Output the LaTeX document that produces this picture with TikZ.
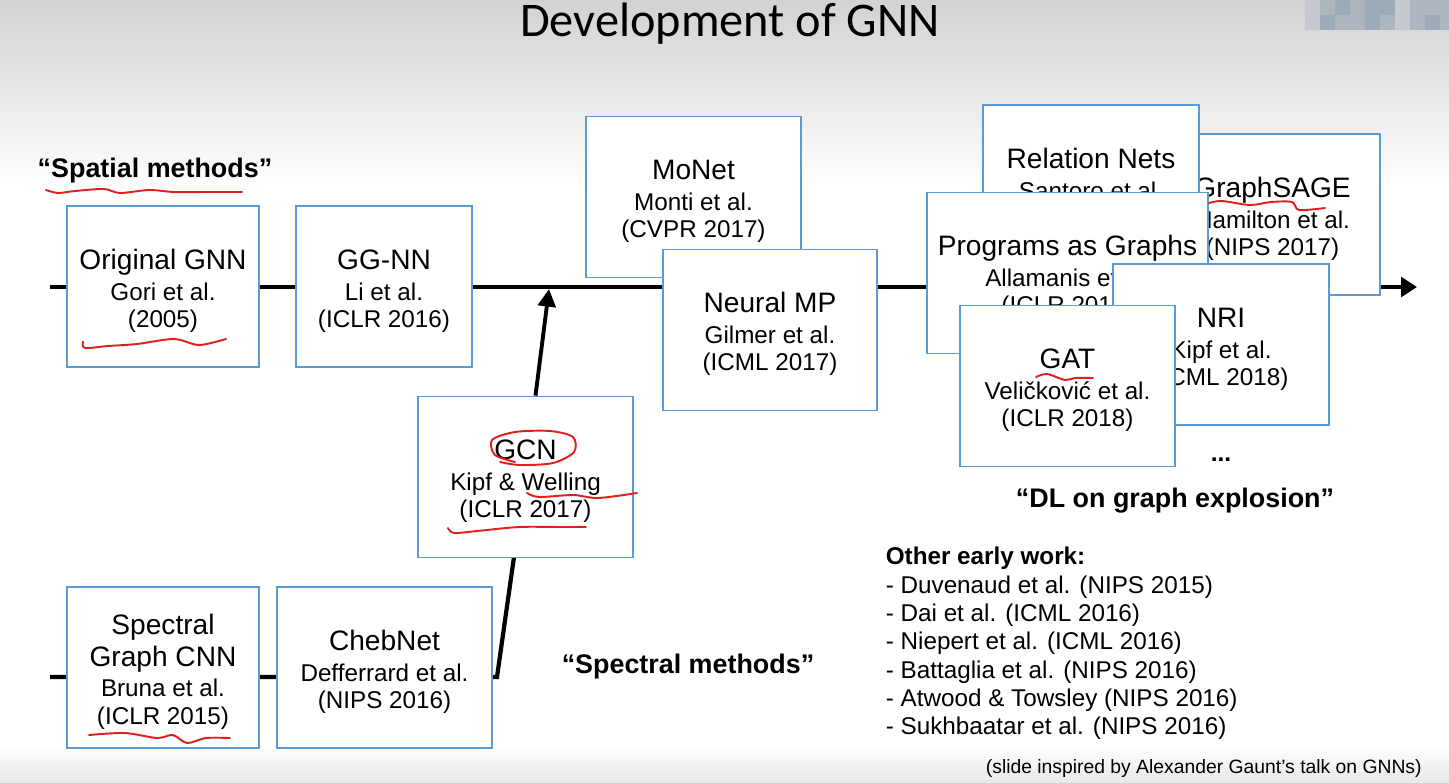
\documentclass[tikz,border=0pt]{standalone}
\usepackage{fontspec}
\setmainfont{Liberation Sans}
\newfontfamily\titlefont{Carlito}
\usetikzlibrary{arrows.meta}

\definecolor{boxblue}{RGB}{91,155,213}
\definecolor{penred}{RGB}{228,30,30}
\definecolor{mosA}{HTML}{9DAAB8}
\definecolor{mosB}{HTML}{ADB5BF}
\definecolor{mosC}{HTML}{C6CAD0}

\newcommand{\ttl}[1]{{\fontsize{16}{18}\selectfont\rule{0pt}{16.3pt}#1}}
\newcommand{\ttlb}[1]{{\fontsize{16}{18}\selectfont #1}}

\tikzset{
  paper/.style={draw=boxblue, line width=1pt, fill=white, inner sep=0pt,
    minimum height=3.22cm, align=center, font=\fontsize{13.8}{15.6}\selectfont},
  timeline/.style={line width=2.8pt},
  methods/.style={font=\bfseries\fontsize{15.3}{18}\selectfont, inner sep=0pt},
  pen/.style={penred, line width=1.1pt, line cap=round, line join=round}
}

\begin{document}
\begin{tikzpicture}[x=0.02cm,y=-0.02cm]
\useasboundingbox (0,0) rectangle (1449,782);
\fill[white] (0,0) rectangle (1449,782);
\shade[top color=gray!35, bottom color=white] (0,0) rectangle (1449,190);
\shade[top color=white, bottom color=gray!18] (0,745) rectangle (1449,782);

% blurred logo
\foreach \x/\c in {1305/mosC,1320/mosB,1335/mosA,1350/mosB,1365/mosA,1380/mosA,1395/mosC,1410/mosB,1425/mosB,1440/mosB}
  \fill[\c] (\x,0) rectangle ++(15,15);
\foreach \x/\c in {1305/mosC,1320/mosA,1335/mosB,1350/mosB,1365/mosA,1380/mosB,1395/mosC,1410/mosB,1425/mosA,1440/mosB}
  \fill[\c] (\x,15) rectangle ++(15,15);

\node[anchor=base, font=\titlefont\fontsize{27.5}{30}\selectfont] (title) at (730,36) {Development of GNN};

% time lines
\coordinate (tstart) at (50,287);
\coordinate (tend) at (1417,287);
\coordinate (merge) at (549,289);
\coordinate (sstart) at (50,677);
\coordinate (sbend) at (497,677);
\draw[timeline,-{Triangle[length=9pt,width=11pt]}] (tstart) -- (tend);
\draw[line width=2.4pt] (sstart) -- (sbend) -- (514,557);

% spatial
\node[paper, minimum width=3.84cm] (orig) at (163,286.5) {\ttl{Original GNN}\\[2pt]Gori et al.\\(2005)};
\node[paper, minimum width=3.52cm] (ggnn) at (384,286.5) {\ttl{GG-NN}\\[2pt]Li et al.\\(ICLR 2016)};
\node[paper, minimum width=4.3cm] (monet) at (693.5,197) {\ttl{MoNet}\\[2pt]Monti et al.\\(CVPR 2017)};
\node[paper, minimum width=4.28cm] (nmp) at (770,330) {\ttl{Neural MP}\\[2pt]Gilmer et al.\\(ICML 2017)};

% spectral
\node[paper, minimum width=4.3cm] (gcn) at (525.5,477) {\ttl{GCN}\\[2pt]Kipf \& Welling\\(ICLR 2017)};
\node[paper, minimum width=3.84cm] (spec) at (163,667.5) {\ttl{Spectral}\\[2.6pt]\ttlb{Graph CNN}\\[1.8pt]Bruna et al.\\(ICLR 2015)};
\node[paper, minimum width=4.3cm] (cheb) at (384.5,667.5) {\ttl{ChebNet}\\[2pt]Defferrard et al.\\(NIPS 2016)};
\draw[line width=2.2pt,-{Triangle[length=10pt,width=10pt]}] ([xshift=0.2cm]gcn.north) -- (merge);

% explosion
\node[paper, minimum width=4.3cm] (sage) at (1272.5,214.5) {\ttl{GraphSAGE}\\[2pt]Hamilton et al.\\(NIPS 2017)};
\node[paper, minimum width=4.32cm] (rel) at (1091,185.5) {\ttl{Relation Nets}\\[2pt]Santoro et al.\\(NIPS 2017)};
\node[paper, minimum width=5.62cm] (prog) at (1067.5,273) {\ttl{Programs as Graphs}\\[2pt]Allamanis et al.\\(ICLR 2018)};
\node[paper, minimum width=4.32cm] (nri) at (1221,344.5) {\ttl{NRI}\\[2pt]Kipf et al.\\(ICML 2018)};
\node[paper, minimum width=4.3cm] (gat) at (1067.5,386) {\ttl{GAT}\\[2pt]Veličković et al.\\(ICLR 2018)};
\node[anchor=base, font=\bfseries\fontsize{14}{16}\selectfont] (more) at (1221,461) {...};

\node[methods] (spatial) at (155,171) {“Spatial methods”};
\node[methods] (spectral) at (688,667) {“Spectral methods”};
\node[methods] (explosion) at (1175,500.5) {“DL on graph explosion”};

\node[anchor=north west, align=left, inner sep=0pt, font=\fontsize{13.8}{16.1}\selectfont] (early) at (885.5,547)
  {\textbf{Other early work:}\\- Duvenaud et al. (NIPS 2015)\\- Dai et al. (ICML 2016)\\- Niepert et al. (ICML 2016)\\- Battaglia et al. (NIPS 2016)\\- Atwood \& Towsley (NIPS 2016)\\- Sukhbaatar et al. (NIPS 2016)};
\node[anchor=base east, inner sep=0pt, font=\fontsize{11}{13}\selectfont] (credit) at (1422,773) {(slide inspired by Alexander Gaunt’s talk on GNNs)};

% red pen marks
\draw[pen] plot[smooth] coordinates {(46,190) (58,193) (75,191) (104,189) (120,193) (149,190) (174,192) (207,192) (242,192)};
\draw[pen] plot[smooth] coordinates {(83,341.7) (85,348) (108,346) (137,344) (174,339) (199,345) (226,339)};
\draw[pen] plot[smooth] coordinates {(515,462) (495,455) (492,440) (515,432) (550,431) (573,437) (574,452) (553,463) (520,465) (500,462)};
\draw[pen] plot[smooth] coordinates {(527,493) (539,497) (573,495) (598,498) (637,493)};
\draw[pen] plot[smooth] coordinates {(448,528) (454,533) (477,531) (519,527) (560,527) (586,527)};
\draw[pen] plot[smooth] coordinates {(89,735) (125,733) (157,738) (173,735) (187,743) (206,738) (230,738)};
\draw[pen] plot[smooth] coordinates {(1209,203) (1222,201) (1250,205) (1271,202) (1292,202) (1299,210) (1325,208)};
\draw[pen] plot[smooth] coordinates {(1036,377) (1047,374) (1065,380) (1075,378) (1093,378)};
\end{tikzpicture}
\end{document}
